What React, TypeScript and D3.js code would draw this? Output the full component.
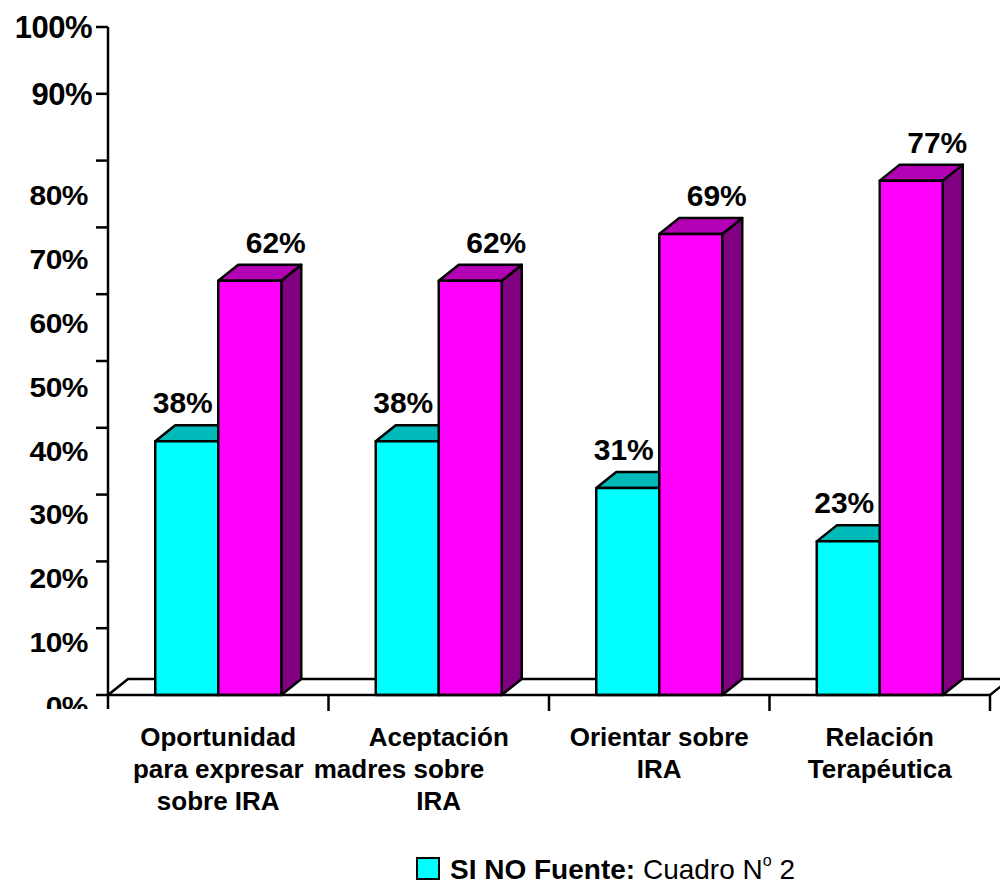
import React from "react";
import * as d3 from "d3";

// Categories, series and values
const categories = [
  "Oportunidad para expresar sobre IRA",
  "Aceptación madres sobre IRA",
  "Orientar sobre IRA",
  "Relación Terapéutica",
];
const categoryLines = [
  ["Oportunidad", "para expresar", "sobre IRA"],
  ["Aceptación", "madres sobre\u00a0\u00a0\u00a0\u00a0\u00a0\u00a0\u00a0\u00a0\u00a0\u00a0\u00a0", "IRA"],
  ["Orientar sobre", "IRA"],
  ["Relación", "Terapéutica"],
];
const series = ["SI", "NO"];
const siValues = [38, 38, 31, 23];
const noValues = [62, 62, 69, 77];
const yTicks = [0, 10, 20, 30, 40, 50, 60, 70, 80, 90, 100];

const W = 1000;
const H = 886;
const FONT = "'Liberation Sans', Arial, Helvetica, sans-serif";

// plot frame
const x0 = 108;
const x1 = 990;
const yBase = 695;
const yTop = 27;
const DX = 20; // depth offset of the 3D bars
const DY = -16;
const BAR_W = 63;

const colors: Record<string, { front: string; top: string; side: string }> = {
  SI: { front: "#00FFFF", top: "#00B9B9", side: "#008A8A" },
  NO: { front: "#FF00FF", top: "#B400B4", side: "#800080" },
};

export default function App() {
  const y = d3.scaleLinear().domain([0, 100]).range([yBase, yTop]);
  // label baseline positions for the lower tick labels
  const yLabelLow = d3.scaleLinear().domain([0, 80]).range([716, 205]);
  const x = d3.scaleBand<string>().domain(categories).range([x0, x1]).padding(0);
  const bw = x.bandwidth();
  const xs = d3
    .scaleBand<string>()
    .domain(series)
    .range([bw / 2 - BAR_W, bw / 2 + BAR_W])
    .padding(0);

  const valuesBySeries: Record<string, number[]> = { SI: siValues, NO: noValues };

  const bar3d = (left: number, w: number, top: number, key: string, k: string) => {
    const c = colors[key];
    const right = left + w;
    const front = `M${left},${top}H${right}V${yBase}H${left}Z`;
    const topFace = `M${left},${top}L${left + DX},${top + DY}H${right + DX}L${right},${top}Z`;
    const side = `M${right},${top}L${right + DX},${top + DY}V${yBase + DY}L${right},${yBase}Z`;
    return (
      <g key={k} stroke="#000" strokeWidth={2.5} strokeLinejoin="round">
        <path d={side} fill={c.side} />
        <path d={topFace} fill={c.top} />
        <path d={front} fill={c.front} />
      </g>
    );
  };

  return (
    <svg
      width={W}
      height={H}
      viewBox={`0 0 ${W} ${H}`}
      style={{ position: "absolute", left: 0, top: 0, background: "#fff" }}
      fontFamily={FONT}
    >
      <defs>
        <clipPath id="tickClip">
          <rect x={0} y={0} width={W} height={709} />
        </clipPath>
      </defs>
      <rect width={W} height={H} fill="#fff" />

      {/* floor */}
      <path
        d={`M${x0},${yBase}L${x0 + DX},${yBase + DY}H${x1 + DX + 10}M${x1},${yBase}L${x1 + DX},${yBase + DY}`}
        fill="none"
        stroke="#000"
        strokeWidth={2.5}
      />

      {/* bars */}
      {categories.map((cat, i) => {
        const bx = x(cat) ?? 0;
        return (
          <g key={cat}>
            {series.map((s) =>
              bar3d(bx + (xs(s) ?? 0), xs.bandwidth(), y(valuesBySeries[s][i]), s, `${cat}-${s}`)
            )}
          </g>
        );
      })}

      {/* value labels */}
      {categories.map((cat, i) => {
        const bx = x(cat) ?? 0;
        return series.map((s) => {
          const v = valuesBySeries[s][i];
          const cx = bx + (xs(s) ?? 0) + xs.bandwidth() / 2 + (s === "SI" ? -4 : 26);
          return (
            <text
              key={`lbl-${cat}-${s}`}
              x={cx}
              y={y(v) + DY - 12}
              textAnchor="middle"
              fontSize={30}
              fontWeight="bold"
              fill="#000"
            >
              {`${v}%`}
            </text>
          );
        });
      })}

      {/* x axis line and category ticks */}
      <line x1={x0} x2={x1} y1={yBase} y2={yBase} stroke="#000" strokeWidth={2.5} />
      {categories.map((cat) => {
        const tx = (x(cat) ?? 0) + bw;
        return <line key={`xt-${cat}`} x1={tx} x2={tx} y1={yBase} y2={711} stroke="#000" strokeWidth={2.5} />;
      })}

      {/* y axis */}
      <line x1={x0} x2={x0} y1={yTop} y2={709} stroke="#000" strokeWidth={2.5} />
      {yTicks.map((t) => (
        <line key={`yt-${t}`} x1={96} x2={x0} y1={y(t)} y2={y(t)} stroke="#000" strokeWidth={2.5} />
      ))}
      <g clipPath="url(#tickClip)">
        {yTicks.map((t) =>
          t >= 90 ? (
            <text
              key={`yl-${t}`}
              x={92}
              y={y(t) + 11}
              textAnchor="end"
              fontSize={31}
              fontWeight="bold"
              letterSpacing={-0.5}
            >
              {`${t}%`}
            </text>
          ) : (
            <text
              key={`yl-${t}`}
              transform={`translate(88,${yLabelLow(t)}) scale(1,0.9)`}
              textAnchor="end"
              fontSize={30}
              fontWeight="bold"
              letterSpacing={-0.5}
            >
              {`${t}%`}
            </text>
          )
        )}
      </g>

      {/* category labels */}
      {categories.map((cat, i) => {
        const cx = (x(cat) ?? 0) + bw / 2;
        return (
          <text key={`cl-${cat}`} textAnchor="middle" fontSize={26} fontWeight="bold" fill="#000">
            {categoryLines[i].map((line, j) => (
              <tspan key={j} x={cx} y={746 + j * 32}>
                {line}
              </tspan>
            ))}
          </text>
        );
      })}

      {/* legend */}
      <rect x={417} y={858} width={22} height={21} fill={colors.SI.front} stroke="#000" strokeWidth={2} />
      <text x={450} y={879} fontSize={28} fill="#000">
        <tspan fontWeight="bold">SI NO Fuente:</tspan>
        <tspan> Cuadro N</tspan>
        <tspan fontSize={16} dy={-13}>o</tspan>
        <tspan dy={13}> 2</tspan>
      </text>
    </svg>
  );
}
